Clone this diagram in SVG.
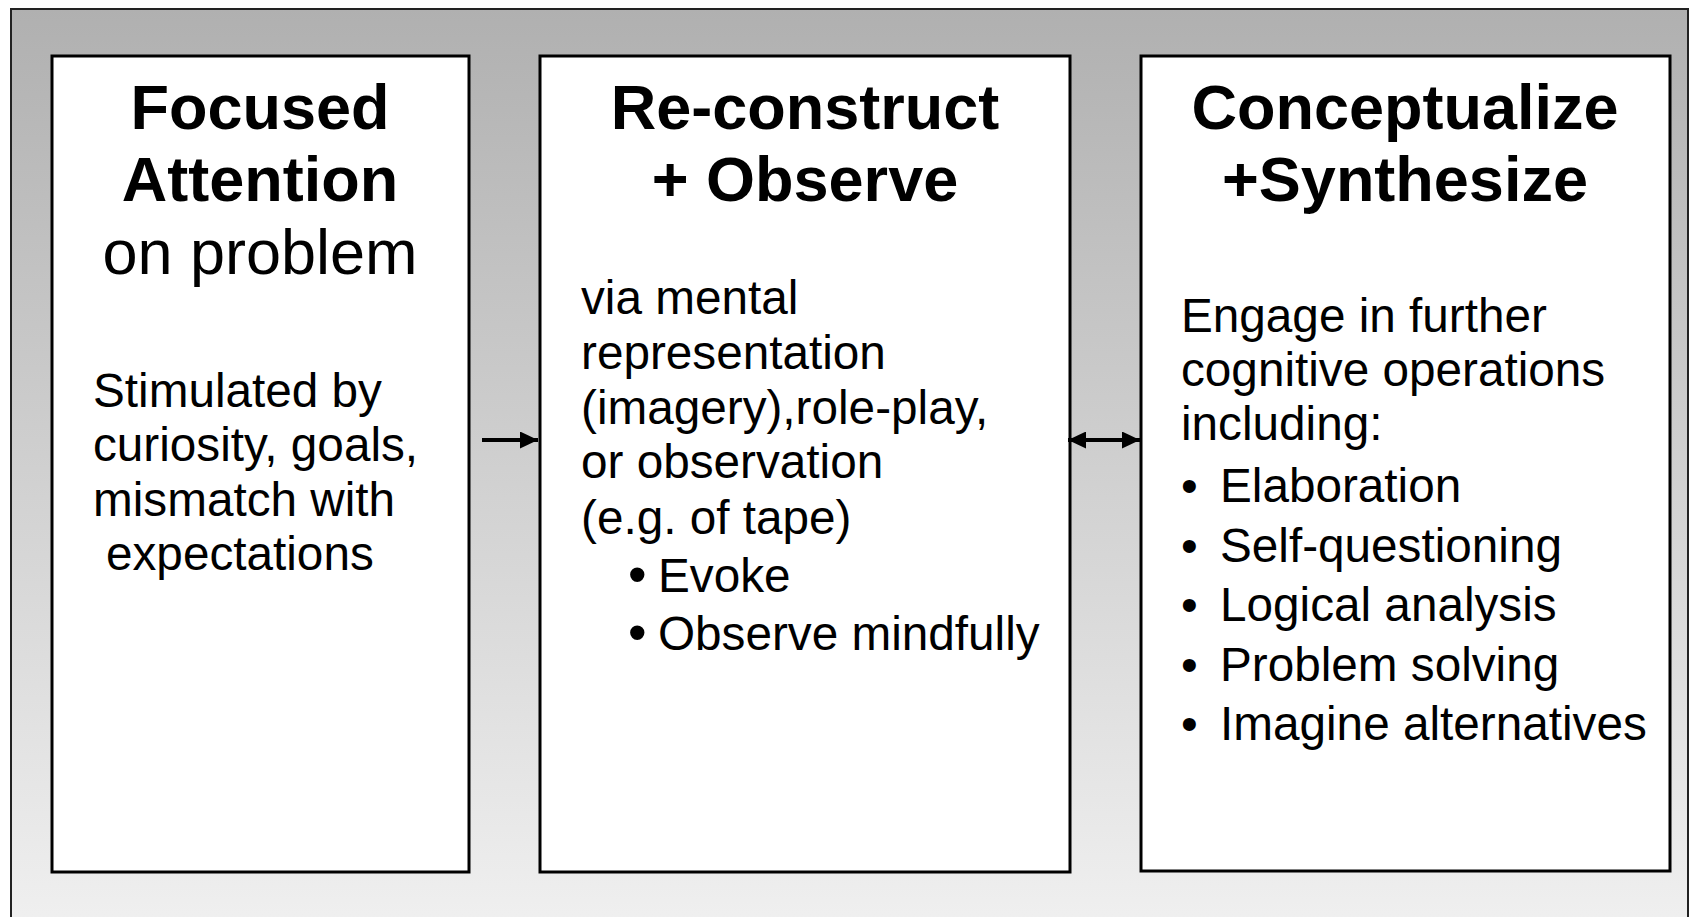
<svg xmlns="http://www.w3.org/2000/svg" width="1697" height="917" viewBox="0 0 1697 917">
<defs>
<linearGradient id="bg" x1="0" y1="0" x2="0" y2="1">
<stop offset="0" stop-color="#b0b0b0"/>
<stop offset="1" stop-color="#f0f0f0"/>
</linearGradient>
<marker id="ah" viewBox="0 0 18 17" refX="18" refY="8.5" markerWidth="18" markerHeight="17" orient="auto-start-reverse" markerUnits="userSpaceOnUse">
<path d="M0,0 L18,8.5 L0,17 z" fill="#000"/>
</marker>
<style>
.box{fill:#fff;stroke:#000;stroke-width:3}
.t{font-family:"Liberation Sans",Arial,sans-serif;font-size:63px;fill:#000}
.b{font-weight:bold}
.c{text-anchor:middle}
.s{font-family:"Liberation Sans",Arial,sans-serif;font-size:47.7px;fill:#000}
.big{font-size:53px}
.conn{stroke:#000;stroke-width:4;fill:none}
</style>
</defs>
<rect x="11" y="9" width="1677" height="920" fill="url(#bg)" stroke="#222" stroke-width="2"/>

<g id="node-focused">
<rect class="box" x="52" y="56" width="417" height="816"/>
<text class="t b c" x="260" y="129">Focused</text>
<text class="t b c" x="260" y="201">Attention</text>
<text class="t c" x="260" y="274">on problem</text>
<text class="s" x="93" y="407">Stimulated by</text>
<text class="s" x="93" y="461">curiosity, goals,</text>
<text class="s" x="93" y="516">mismatch with</text>
<text class="s" x="106" y="570">expectations</text>
</g>

<g id="node-reconstruct">
<rect class="box" x="540" y="56" width="530" height="816"/>
<text class="t b c" x="805" y="129">Re-construct</text>
<text class="t b c" x="805" y="201">+ Observe</text>
<text class="s" x="581" y="314">via mental</text>
<text class="s" x="581" y="369">representation</text>
<text class="s" x="581" y="424">(imagery),role-play,</text>
<text class="s" x="581" y="478">or observation</text>
<text class="s" x="581" y="534">(e.g. of tape)</text>
<text class="s big" x="628" y="593">•</text>
<text class="s" x="658" y="592">Evoke</text>
<text class="s big" x="628" y="651">•</text>
<text class="s" x="658" y="650">Observe mindfully</text>
</g>

<g id="node-conceptualize">
<rect class="box" x="1141" y="56" width="529" height="815"/>
<text class="t b c" x="1405" y="129">Conceptualize</text>
<text class="t b c" x="1405" y="201">+Synthesize</text>
<text class="s" x="1181" y="332">Engage in further</text>
<text class="s" x="1181" y="386">cognitive operations</text>
<text class="s" x="1181" y="440">including:</text>
<text class="s" x="1181" y="502">•</text>
<text class="s" x="1220" y="502">Elaboration</text>
<text class="s" x="1181" y="562">•</text>
<text class="s" x="1220" y="562">Self-questioning</text>
<text class="s" x="1181" y="621">•</text>
<text class="s" x="1220" y="621">Logical analysis</text>
<text class="s" x="1181" y="681">•</text>
<text class="s" x="1220" y="681">Problem solving</text>
<text class="s" x="1181" y="740">•</text>
<text class="s" x="1220" y="740">Imagine alternatives</text>
</g>

<g id="connectors">
<line class="conn" x1="482" y1="440" x2="538" y2="440" marker-end="url(#ah)"/>
<line class="conn" x1="1068" y1="440" x2="1140" y2="440" marker-start="url(#ah)" marker-end="url(#ah)"/>
</g>
</svg>
